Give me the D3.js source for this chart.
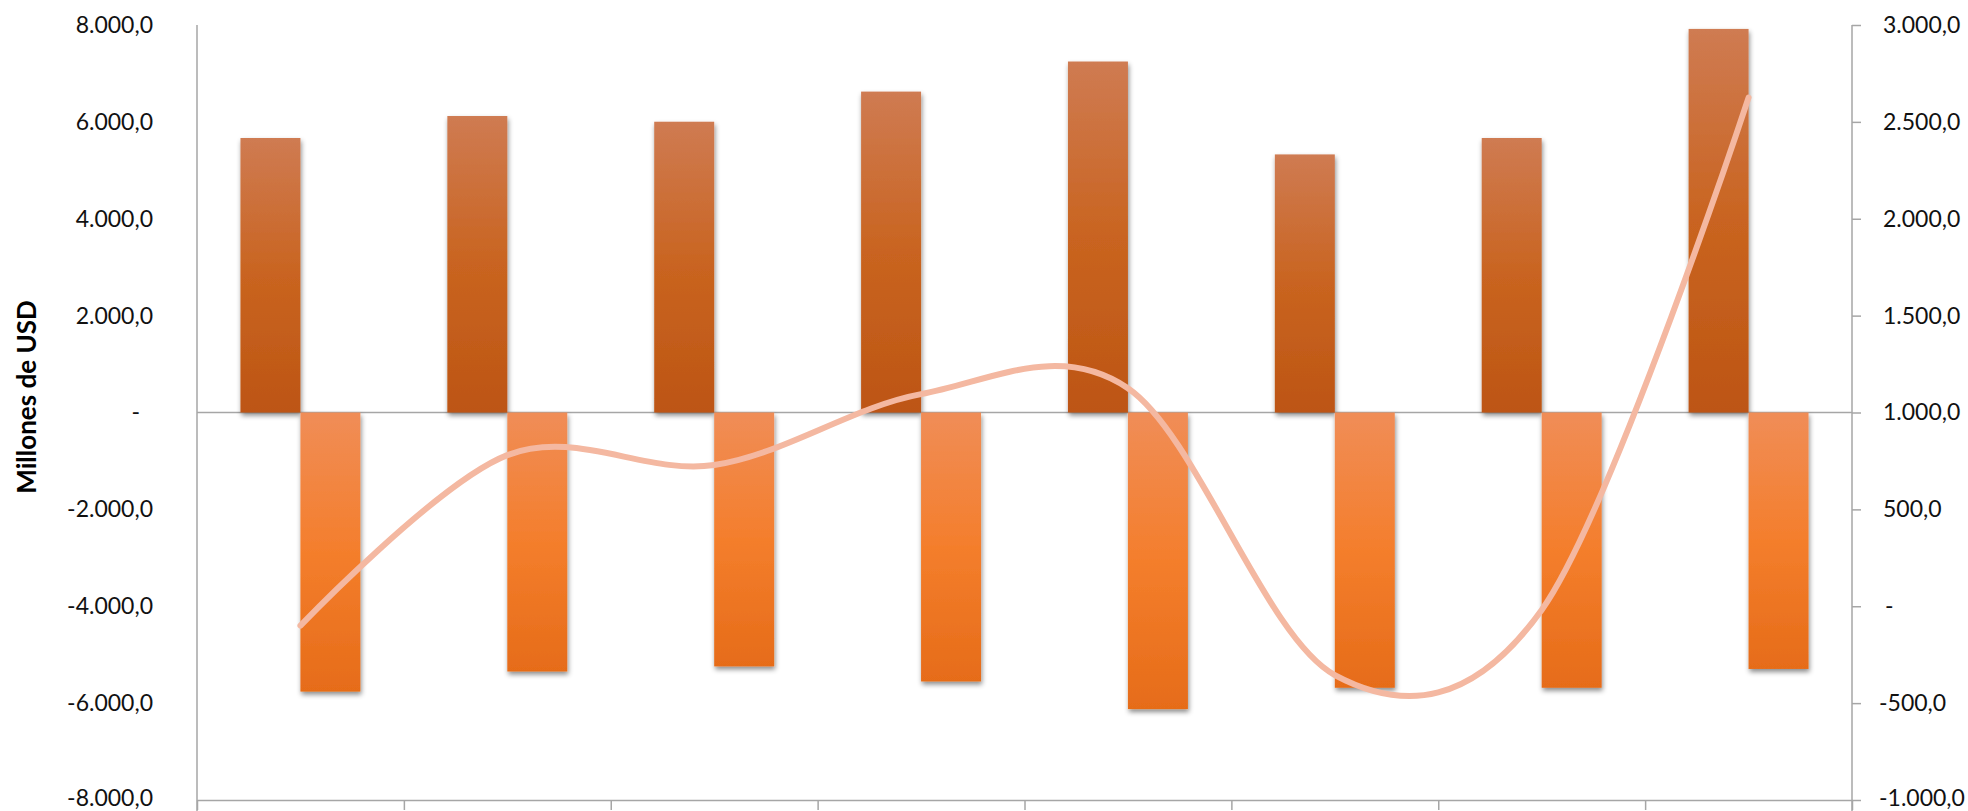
<!DOCTYPE html>
<html>
<head>
<meta charset="utf-8">
<script src="https://cdn.jsdelivr.net/npm/d3@7"></script>
<style>
  html, body { margin: 0; padding: 0; background: #ffffff; }
  svg { display: block; }
  text { font-family: Lato, "Open Sans", sans-serif; }
</style>
</head>
<body>
<svg id="chart" width="1968" height="811"></svg>
<script>
// ---- data ----
const categories = ["1", "2", "3", "4", "5", "6", "7", "8"];
const positiveValues = [5667, 6121, 6003, 6625, 7246, 5328, 5667, 7919];
const negativeValues = [-5762, -5347, -5242, -5553, -6123, -5683, -5683, -5295];
const lineValues = [-100, 780, 729, 1095, 1125, -355, -19, 2625];
const leftTicks = [-8000, -6000, -4000, -2000, 0, 2000, 4000, 6000, 8000];
const rightTicks = [-1000, -500, 0, 500, 1000, 1500, 2000, 2500, 3000];
const yAxisTitle = "Millones de USD";

// ---- layout ----
const plot = { left: 197, right: 1852, top: 25, bottom: 800 };
const svg = d3.select("#chart");
const axisColor = "#a6a6a6";

const loc = d3.formatLocale({ decimal: ",", thousands: ".", grouping: [3], currency: ["", ""], minus: "-" });
const fmt = loc.format(",.1f");
const tickFmt = v => v === 0 ? "-" : fmt(v);

const x0 = d3.scaleBand().domain(categories).range([plot.left, plot.right]).padding(0);
const x1 = d3.scaleBand().domain(["pos", "neg"]).range([0, x0.bandwidth()]).paddingInner(0).paddingOuter(0.725);
const xb = d3.scaleLinear().domain([0, categories.length]).range([plot.left, plot.right]);
const yL = d3.scaleLinear().domain([-8000, 8000]).range([plot.bottom, plot.top]);
const yR = d3.scaleLinear().domain([-1000, 3000]).range([plot.bottom, plot.top]);

// ---- defs ----
const defs = svg.append("defs");
function vgrad(id, stops) {
  const g = defs.append("linearGradient").attr("id", id).attr("x1", 0).attr("y1", 0).attr("x2", 0).attr("y2", 1);
  stops.forEach(s => g.append("stop").attr("offset", s[0]).attr("stop-color", s[1]));
}
vgrad("gPos", [[0, "#cf7b52"], [0.5, "#c96420"], [1, "#bd5514"]]);
vgrad("gNeg", [[0, "#f08d57"], [0.5, "#f47e2c"], [1, "#e66c19"]]);
const f = defs.append("filter").attr("id", "shadow").attr("x", "-30%").attr("y", "-10%").attr("width", "160%").attr("height", "125%");
f.append("feDropShadow").attr("dx", 1).attr("dy", 3).attr("stdDeviation", 2.5)
  .attr("flood-color", "#000").attr("flood-opacity", 0.45);

// ---- axes ----
// bottom (category boundaries with ticks)
svg.append("g").attr("transform", `translate(0,${plot.bottom})`)
  .call(d3.axisBottom(xb).tickValues(d3.range(0, categories.length + 1)).tickFormat("").tickSize(10).tickSizeOuter(0))
  .call(g => g.selectAll("line,path").attr("stroke", axisColor).attr("stroke-width", 1.5));

// zero line
svg.append("line").attr("x1", plot.left).attr("x2", plot.right)
  .attr("y1", yL(0)).attr("y2", yL(0)).attr("stroke", axisColor).attr("stroke-width", 1.5);

// left axis
const gL = svg.append("g").attr("transform", `translate(${plot.left},0)`)
  .call(d3.axisLeft(yL).tickValues(leftTicks).tickFormat(tickFmt).tickSize(0).tickPadding(44));
gL.select(".domain").attr("stroke", axisColor).attr("stroke-width", 1.5).attr("d", `M0,${plot.top}V${plot.bottom + 11}`);
gL.selectAll("text").attr("font-size", 23).attr("fill", "#111")
  .attr("dy", d => d === -8000 ? "0.22em" : "0.32em")
  .filter(d => d === 0).attr("dx", -13);

// right axis
const gR = svg.append("g").attr("transform", `translate(${plot.right},0)`)
  .call(d3.axisRight(yR).tickValues(rightTicks).tickFormat(tickFmt).tickSize(9).tickPadding(22));
gR.select(".domain").attr("stroke", axisColor).attr("stroke-width", 1.5).attr("d", `M0,${plot.top}V${plot.bottom + 11}`);
gR.selectAll(".tick line").attr("stroke", axisColor).attr("stroke-width", 1.5);
gR.selectAll("text").attr("font-size", 23).attr("fill", "#111")
  .attr("dy", d => d === -1000 ? "0.22em" : "0.32em")
  .attr("dx", d => d < 0 ? -4 : (d === 0 ? 2 : 0));

// y title
svg.append("text")
  .attr("transform", `translate(36,397) rotate(-90)`)
  .attr("text-anchor", "middle")
  .attr("font-size", 26).attr("font-weight", "bold").attr("fill", "#000")
  .text(yAxisTitle);

// ---- bars ----
const bars = svg.append("g").attr("filter", "url(#shadow)");
bars.selectAll("rect.pos").data(categories).join("rect").attr("class", "pos")
  .attr("x", c => x0(c) + x1("pos"))
  .attr("width", x1.bandwidth())
  .attr("y", (c, i) => yL(positiveValues[i]))
  .attr("height", (c, i) => yL(0) - yL(positiveValues[i]))
  .attr("fill", "url(#gPos)");
bars.selectAll("rect.neg").data(categories).join("rect").attr("class", "neg")
  .attr("x", c => x0(c) + x1("neg"))
  .attr("width", x1.bandwidth())
  .attr("y", yL(0))
  .attr("height", (c, i) => yL(negativeValues[i]) - yL(0))
  .attr("fill", "url(#gNeg)");

// ---- line ----
const line = d3.line()
  .x((d, i) => x0(categories[i]) + x0.bandwidth() / 2)
  .y(d => yR(d))
  .curve(d3.curveCardinal.tension(0));
svg.append("path").datum(lineValues)
  .attr("d", line)
  .attr("fill", "none")
  .attr("stroke", "#f4b8a1")
  .attr("stroke-width", 6)
  .attr("stroke-linecap", "round")
  .attr("stroke-linejoin", "round");
</script>
</body>
</html>
